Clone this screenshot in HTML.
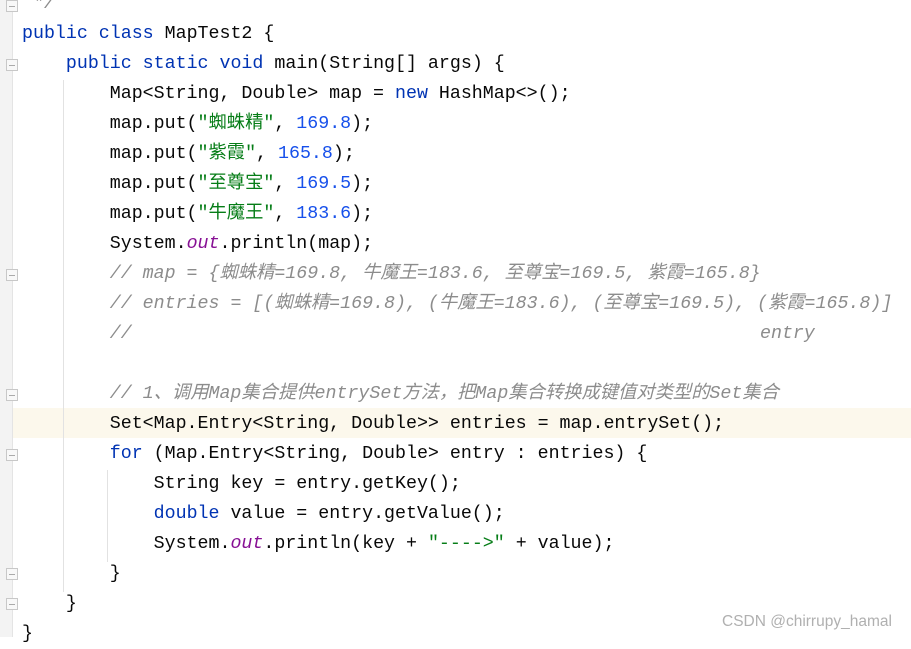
<!DOCTYPE html>
<html><head><meta charset="utf-8"><style>
html,body{margin:0;padding:0;}
body{width:911px;height:637px;background:#fff;position:relative;overflow:hidden;}
.g{position:absolute;left:0;top:0;width:12px;height:637px;background:#f3f3f3;border-right:1px solid #e4e4e4;}
.hl{position:absolute;left:13px;top:408px;width:898px;height:30px;background:#fcf8ec;}
.l{position:absolute;left:22px;height:30px;line-height:30px;white-space:pre;font-family:"Liberation Mono","Noto Sans CJK SC",monospace;font-size:18.3px;color:#080808;}
.k{color:#0033b3}.n{color:#1750eb}.s{color:#067d17}.c{color:#8c8c8c;font-style:italic}.o{color:#871094;font-style:italic}
.ig{position:absolute;width:1px;background:#e2e2e2;}
.f{position:absolute;left:6px;width:12px;height:12px;border:1px solid #c8c8c8;background:#f8f8f8;box-sizing:border-box;}
.f::after{content:"";position:absolute;left:2px;top:5px;width:6px;height:1px;background:#aaa;}
.wm{position:absolute;left:722px;top:613px;font-family:"Liberation Sans",sans-serif;font-size:15.5px;color:#b0b0b0;}
</style></head><body>
<div class="g"></div>
<div class="hl"></div>
<div class="ig" style="left:63px;top:80px;height:512px"></div>
<div class="ig" style="left:107px;top:470px;height:92px"></div>
<div class="f" style="top:0px"></div>
<div class="f" style="top:59px"></div>
<div class="f" style="top:269px"></div>
<div class="f" style="top:389px"></div>
<div class="f" style="top:449px"></div>
<div class="f" style="top:568px"></div>
<div class="f" style="top:598px"></div>
<div class="l c" style="top:-11px"> */</div>
<div class="l" style="top:19px"><span class="k">public class</span> MapTest2 {</div>
<div class="l" style="top:49px">    <span class="k">public static void</span> main(String[] args) {</div>
<div class="l" style="top:79px">        Map&lt;String, Double&gt; map = <span class="k">new</span> HashMap&lt;&gt;();</div>
<div class="l" style="top:109px">        map.put(<span class="s">"蜘蛛精"</span>, <span class="n">169.8</span>);</div>
<div class="l" style="top:139px">        map.put(<span class="s">"紫霞"</span>, <span class="n">165.8</span>);</div>
<div class="l" style="top:169px">        map.put(<span class="s">"至尊宝"</span>, <span class="n">169.5</span>);</div>
<div class="l" style="top:199px">        map.put(<span class="s">"牛魔王"</span>, <span class="n">183.6</span>);</div>
<div class="l" style="top:229px">        System.<span class="o">out</span>.println(map);</div>
<div class="l c" style="top:259px">        // map = {蜘蛛精=169.8, 牛魔王=183.6, 至尊宝=169.5, 紫霞=165.8}</div>
<div class="l c" style="top:289px">        // entries = [(蜘蛛精=169.8), (牛魔王=183.6), (至尊宝=169.5), (紫霞=165.8)]</div>
<div class="l c" style="top:319px">        //</div>
<div class="l c" style="top:319px;left:760px">entry</div>
<div class="l c" style="top:379px">        // 1、调用Map集合提供entrySet方法，把Map集合转换成键值对类型的Set集合</div>
<div class="l" style="top:409px">        Set&lt;Map.Entry&lt;String, Double&gt;&gt; entries = map.entrySet();</div>
<div class="l" style="top:439px">        <span class="k">for</span> (Map.Entry&lt;String, Double&gt; entry : entries) {</div>
<div class="l" style="top:469px">            String key = entry.getKey();</div>
<div class="l" style="top:499px">            <span class="k">double</span> value = entry.getValue();</div>
<div class="l" style="top:529px">            System.<span class="o">out</span>.println(key + <span class="s">"----&gt;"</span> + value);</div>
<div class="l" style="top:559px">        }</div>
<div class="l" style="top:589px">    }</div>
<div class="l" style="top:619px">}</div>
<div class="wm">CSDN @chirrupy_hamal</div>
</body></html>
